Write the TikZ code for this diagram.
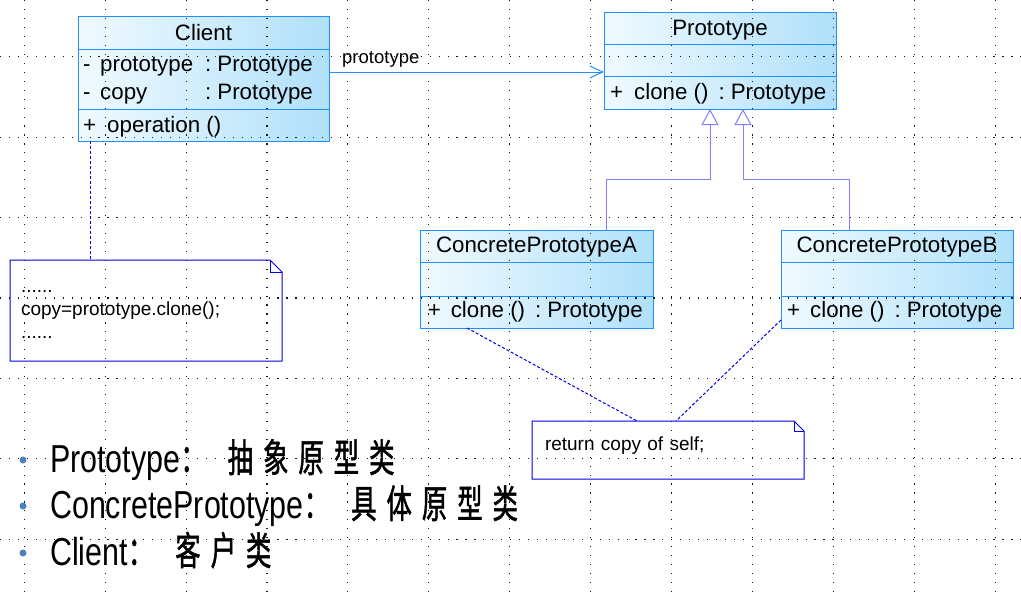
\documentclass[tikz,border=0pt]{standalone}
\usepackage{fontspec}
\setmainfont{Liberation Sans}
\newfontfamily\itemfont[FakeStretch=0.78]{Liberation Sans}
\newfontfamily\cjkfont[FakeStretch=0.65, FakeBold=1.2]{Noto Sans CJK SC}
\usetikzlibrary{arrows.meta}

\definecolor{clsedge}{RGB}{30,144,255}
\definecolor{clslight}{RGB}{240,250,255}
\definecolor{clsdark}{RGB}{176,224,250}
\definecolor{genline}{RGB}{128,128,255}
\definecolor{noteedge}{RGB}{0,0,230}
\definecolor{bulletblue}{RGB}{79,129,189}

\newcommand{\cjkgap}{\hspace{10pt}}

\begin{document}
\begin{tikzpicture}[x=1pt, y=-1pt,
    compart/.style={draw=clsedge, line width=1pt, left color=clslight,
      right color=clsdark, anchor=north west, inner sep=0pt, outer sep=0pt},
    clsname/.style={anchor=base, inner sep=0pt,
      font={\fontsize{22.3pt}{26pt}\selectfont}},
    member/.style={anchor=base west, inner sep=0pt,
      font={\fontsize{22.3pt}{26pt}\selectfont}},
    assoc/.style={draw=clsedge, line width=1pt,
      -{Straight Barb[length=13pt, width=12pt]}},
    gen/.style={draw=genline, line width=1pt,
      -{Triangle[open, length=16pt, width=17pt]}},
    notebox/.style={anchor=north west, inner ysep=0pt, outer sep=0pt,
      align=left, font={\fontsize{19pt}{23pt}\selectfont}},
    noteline/.style={draw=noteedge, line width=1pt},
    notelink/.style={draw=noteedge, line width=1pt, dash pattern=on 3pt off 2pt},
    griddots/.style={draw=black!90, line width=1.15pt, dash pattern=on 1.15pt off 7.8pt},
    item/.style={anchor=base west, inner sep=0pt,
      font={\itemfont\fontsize{39pt}{45pt}\selectfont}}]

    \fill[white] (0, 0) rectangle (1021, 592);
    \useasboundingbox (0, 0) rectangle (1021, 592);

    % class boxes
    \node[compart, minimum width=251pt, minimum height=33pt] (clienttitle) at (78, 16) {};
    \node[compart, minimum width=251pt, minimum height=60pt] (clientattr) at (78, 49) {};
    \node[compart, minimum width=251pt, minimum height=32pt] (clientops) at (78, 109) {};

    \node[compart, minimum width=232pt, minimum height=32pt] (prototitle) at (604, 12) {};
    \node[compart, minimum width=232pt, minimum height=32pt] (protoattr) at (604, 44) {};
    \node[compart, minimum width=232pt, minimum height=33pt] (protoops) at (604, 76) {};

    \node[compart, minimum width=233pt, minimum height=32pt] (cpatitle) at (420, 230) {};
    \node[compart, minimum width=233pt, minimum height=34pt] (cpaattr) at (420, 262) {};
    \node[compart, minimum width=233pt, minimum height=32pt] (cpaops) at (420, 296) {};

    \node[compart, minimum width=232pt, minimum height=32pt] (cpbtitle) at (781, 230) {};
    \node[compart, minimum width=232pt, minimum height=34pt] (cpbattr) at (781, 262) {};
    \node[compart, minimum width=232pt, minimum height=32pt] (cpbops) at (781, 296) {};

    % dotted grid
    \begin{scope}[shift={(24.3, 56.8)}]
        \draw[griddots, xstep=80.9pt, ystep=80.4pt] (-24.3, -56.8) grid (996.7, 535.2);
    \end{scope}

    \node[clsname] (clientname) at (203.5, 40) {Client};
    \node[member] (clientproto) at (83, 71)
        {-\hspace{9.6pt}\makebox[105pt][l]{prototype}:\hspace{6pt}Prototype};
    \node[member] (clientcopy) at (83, 99)
        {-\hspace{9.6pt}\makebox[105pt][l]{copy}:\hspace{6pt}Prototype};
    \node[member] (clientop) at (83, 132) {+\hspace{11pt}operation ()};

    \node[clsname] (protoname) at (720, 35) {Prototype};
    \node[member] (protoclone) at (610, 99.5)
        {+\hspace{11pt}clone ()\hspace{10pt}:\hspace{6pt}Prototype};

    \node[clsname] (cpaname) at (536.5, 252) {ConcretePrototypeA};
    \node[member] (cpaclone) at (427.6, 317)
        {+\hspace{10pt}clone ()\hspace{10pt}:\hspace{6pt}Prototype};

    \node[clsname] (cpbname) at (897, 252) {ConcretePrototypeB};
    \node[member] (cpbclone) at (787, 317)
        {+\hspace{10pt}clone ()\hspace{10pt}:\hspace{6pt}Prototype};

    % notes
    \node[notebox, text width=250pt, inner xsep=11pt, minimum height=101pt] (clinote)
        at (10, 260) {\strut......\\copy=prototype.clone();\\\strut......};
    \node[notebox, text width=246pt, inner xsep=13pt, minimum height=58pt] (retnote)
        at (532, 421) {\rule[-12pt]{0pt}{16pt}return copy of self;};

    \draw[noteline] (clinote.north west) -- ([xshift=-12pt]clinote.north east)
        -- ([yshift=-12pt]clinote.north east) -- (clinote.south east)
        -- (clinote.south west) -- cycle;
    \draw[noteline] ([xshift=-12pt]clinote.north east) |- ([yshift=-12pt]clinote.north east);
    \draw[noteline] (retnote.north west) -- ([xshift=-10pt]retnote.north east)
        -- ([yshift=-10pt]retnote.north east) -- (retnote.south east)
        -- (retnote.south west) -- cycle;
    \draw[noteline] ([xshift=-10pt]retnote.north east) |- ([yshift=-10pt]retnote.north east);

    % connectors
    \draw[assoc] ([yshift=7pt]clientattr.east) -- ([yshift=7pt]clientattr.east -| protoattr.west);
    \node[anchor=base west, inner sep=0pt, font={\fontsize{18.5pt}{22pt}\selectfont}]
        (assoclabel) at (342, 63) {prototype};

    \draw[gen] ([xshift=-47pt]cpatitle.north east)
        |- ([xshift=-10pt, yshift=-70pt]protoops.south) -- ([xshift=-10pt]protoops.south);
    \draw[gen] ([xshift=68pt]cpbtitle.north west)
        |- ([xshift=23pt, yshift=-70pt]protoops.south) -- ([xshift=23pt]protoops.south);

    \draw[notelink] ([xshift=12pt]clientops.south west) -- ([xshift=80pt]clinote.north west);
    \draw[notelink] ([xshift=47pt]cpaops.south west) -- ([xshift=105pt]retnote.north west);
    \draw[notelink] ([yshift=8pt]cpbops.south west) -- ([xshift=144pt]retnote.north west);

    % legend
    \node[item] (protoitem) at (50, 472)
        {Prototype{\cjkfont ：\hspace{22pt}抽\cjkgap 象\cjkgap 原\cjkgap 型\cjkgap 类}};
    \node[item] (concreteitem) at (50, 518)
        {ConcretePrototype{\cjkfont ：\hspace{22pt}具\cjkgap 体\cjkgap 原\cjkgap 型\cjkgap 类}};
    \node[item] (clientitem) at (50, 565)
        {Client{\cjkfont ：\hspace{22pt}客\cjkgap 户\cjkgap 类}};

    \fill[bulletblue] ([xshift=-27pt, yshift=12pt]protoitem.base west) circle (3.5pt);
    \fill[bulletblue] ([xshift=-27pt, yshift=12pt]concreteitem.base west) circle (3.5pt);
    \fill[bulletblue] ([xshift=-27pt, yshift=12pt]clientitem.base west) circle (3.5pt);
\end{tikzpicture}
\end{document}
